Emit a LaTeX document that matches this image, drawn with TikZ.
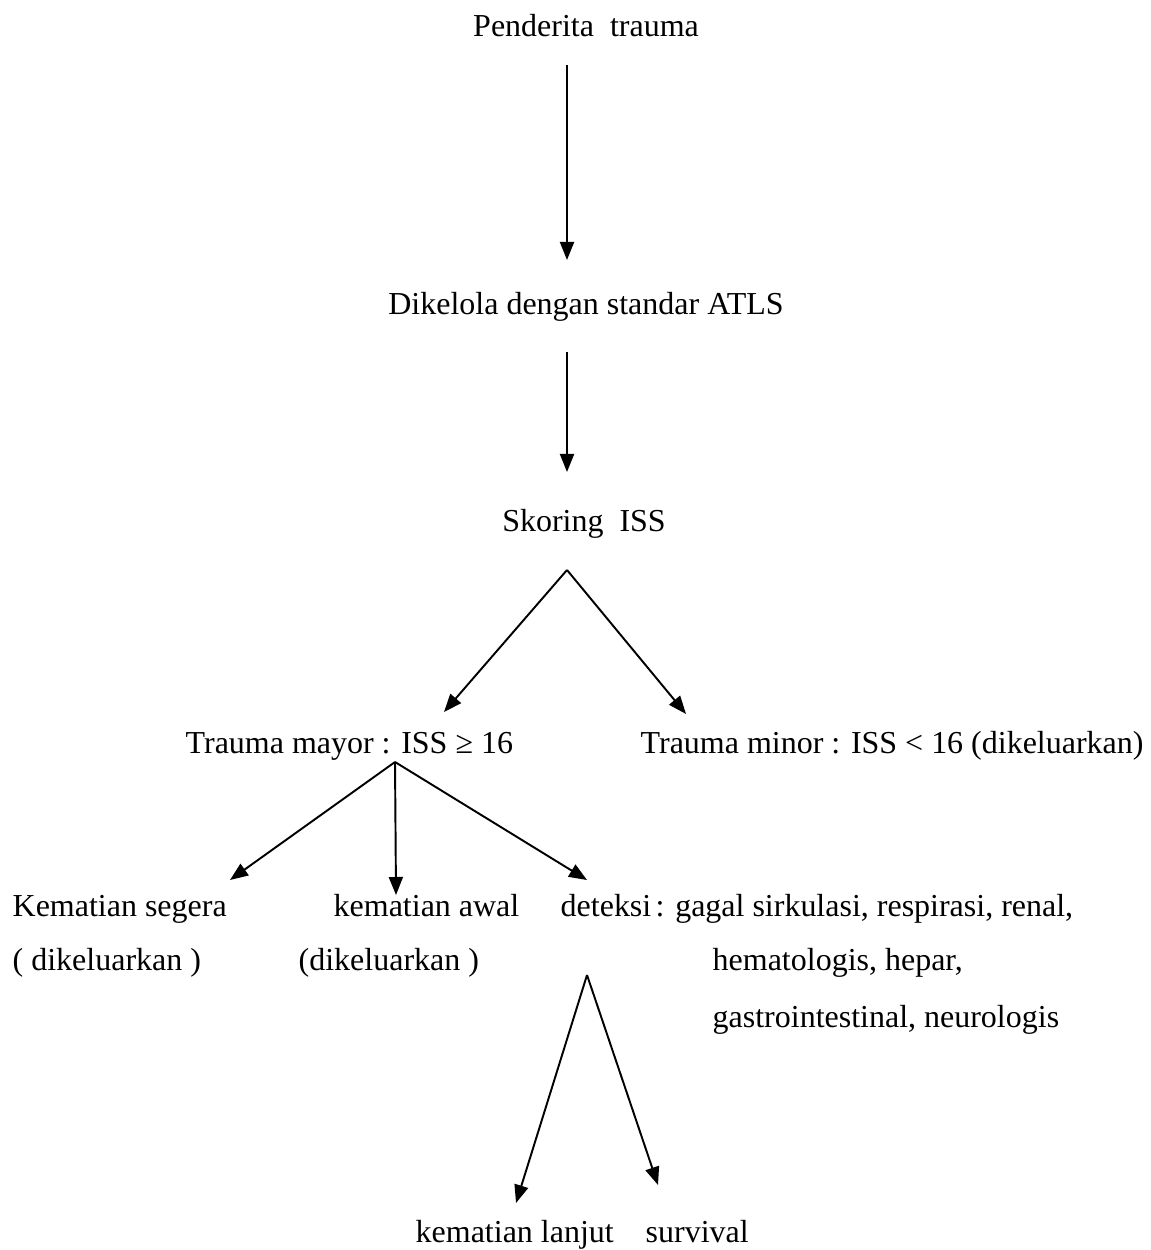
\documentclass[tikz,border=0pt]{standalone}
\usepackage{fontspec}
\setmainfont{Liberation Serif}
\usetikzlibrary{arrows.meta,
                positioning}

\tikzset{label/.style={inner sep=0pt, font=\fontsize{9.1}{11}\selectfont},
         flow/.style={line width=0.55pt, -{Triangle[length=1.8mm,width=1.4mm]}}}

\begin{document}
\begin{tikzpicture}[x=0.1mm,y=-0.1mm]
 \useasboundingbox (0,0) rectangle (1150,1250);
 % texts
 \node[label,anchor=base] (trauma) at (586,37) {Penderita\ \ trauma};
 \node[label,anchor=base] (atls) at (586,315) {Dikelola dengan standar ATLS};
 \node[label,anchor=base] (iss) at (584,532) {Skoring\ \ ISS};
 \node[label,anchor=base west] (mayor) at (185,753) {Trauma mayor : ISS ≥ 16};
 \node[label,anchor=base west] (minor) at (640,753) {Trauma minor : ISS < 16 (dikeluarkan)};
 \node[label,anchor=base west] (segera) at (12,916) {Kematian segera};
 \node[label,anchor=base west] (segerax) at (12,970) {( dikeluarkan )};
 \node[label,anchor=base west] (awal) at (333,916) {kematian awal};
 \node[label,anchor=base west] (awalx) at (298,970) {(dikeluarkan )};
 \node[label,anchor=base west] (deteksi) at (560,916) {deteksi};
 \node[label,anchor=base west] (gagal) at (655,916) {: gagal sirkulasi, respirasi, renal,};
 \node[label,anchor=base west] (hemato) at (712,970) {hematologis, hepar,};
 \node[label,anchor=base west] (gastro) at (712,1027) {gastrointestinal, neurologis};
 \node[label,anchor=base west] (lanjut) at (415,1242) {kematian lanjut};
 \node[label,anchor=base west] (survival) at (645,1242) {survival};
 % branch points
 \coordinate (top1) at (567,65);
 \coordinate (end1) at (567,260);
 \coordinate (top2) at (567,352);
 \coordinate (end2) at (567,472);
 \coordinate (split1) at (567,570);
 \coordinate (tomayor) at (444,712);
 \coordinate (tominor) at (686,714);
 \coordinate (split2) at (395,762);
 \coordinate (tosegera) at (230,880);
 \coordinate (toawal) at (396,895);
 \coordinate (todeteksi) at (587,880);
 \coordinate (split3) at (587,975);
 \coordinate (tolanjut) at (516,1203);
 \coordinate (tosurvival) at (658,1185);
 % arrows
 \draw[flow] (top1) -- (end1);
 \draw[flow] (top2) -- (end2);
 \draw[flow] (split1) -- (tomayor);
 \draw[flow] (split1) -- (tominor);
 \draw[flow] (split2) -- (tosegera);
 \draw[flow] (split2) -- (toawal);
 \draw[flow] (split2) -- (todeteksi);
 \draw[flow] (split3) -- (tolanjut);
 \draw[flow] (split3) -- (tosurvival);
\end{tikzpicture}
\end{document}
